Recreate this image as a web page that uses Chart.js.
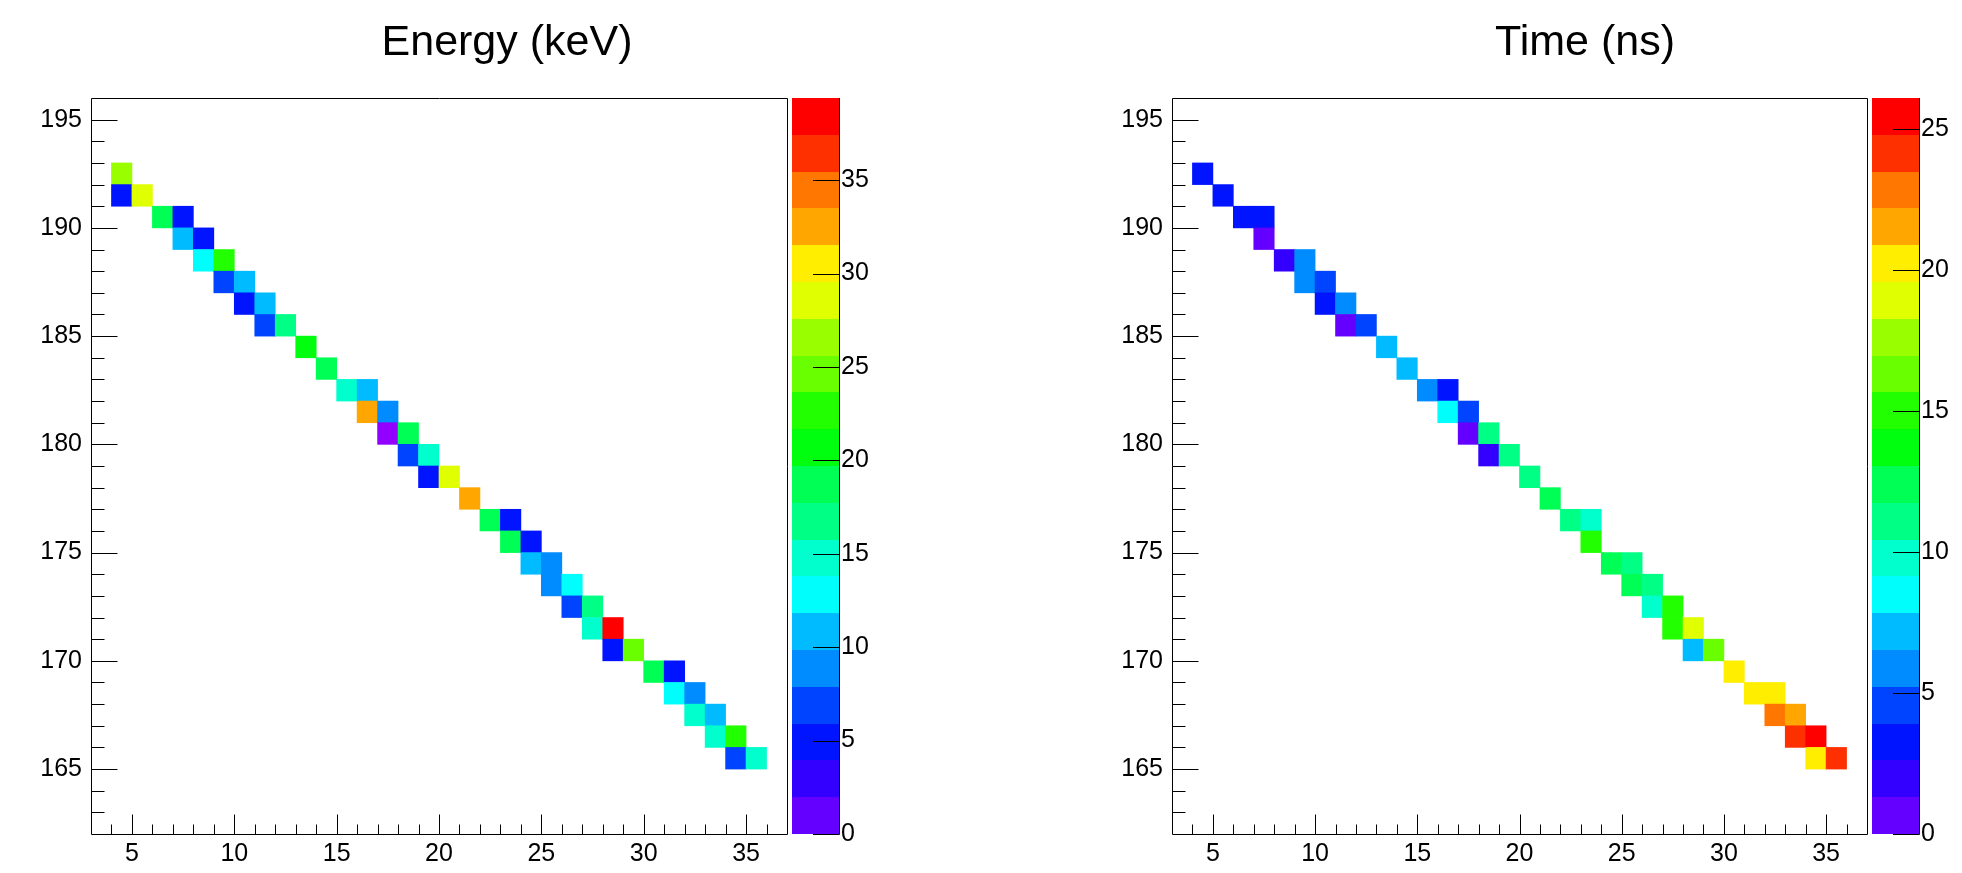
<!DOCTYPE html>
<html>
<head>
<meta charset="utf-8">
<title>Energy and time maps</title>
<script src="https://cdn.jsdelivr.net/npm/chart.js@4.4.1/dist/chart.umd.min.js"></script>
<style>
  html, body { margin: 0; padding: 0; background: #fff; overflow: hidden; width: 1962px; height: 873px; }
  .pad { position: absolute; top: 0; }
  canvas { display: block; }
</style>
</head>
<body>
<div class="pad" style="left:33px"><canvas id="energyPad" width="948" height="873"></canvas></div>
<div class="pad" style="left:1110px"><canvas id="timePad" width="950" height="873"></canvas></div>
<script>
// ---- axis ranges and tick labels ----
const xRange = [3, 37];
const yRange = [162, 196];
const xTickLabels = [5, 10, 15, 20, 25, 30, 35];
const yTickLabels = [165, 170, 175, 180, 185, 190, 195];
const energyZTicks = [0, 5, 10, 15, 20, 25, 30, 35];
const timeZTicks = [0, 5, 10, 15, 20, 25];

// ---- Energy (keV): lower bin edges and contents ----
const energyBinX = [4, 4, 5, 6, 7, 7, 8, 8, 9, 9, 10, 10, 11, 11, 12, 13, 14, 15, 16, 16, 17, 17,
  18, 18, 19, 19, 20, 21, 22, 23, 23, 24, 24, 25, 25, 26, 26, 27, 27, 28, 28, 29, 30, 31, 31, 32, 32,
  33, 33, 34, 34, 35];
const energyBinY = [192, 191, 191, 190, 190, 189, 189, 188, 188, 187, 187, 186, 186, 185, 185, 184, 183, 182, 182, 181, 181, 180,
  180, 179, 179, 178, 178, 177, 176, 176, 175, 175, 174, 174, 173, 173, 172, 172, 171, 171, 170, 170, 169, 169, 168, 168, 167,
  167, 166, 166, 165, 165];
const energyValues = [26.5, 4.9, 28.5, 18.7, 5.0, 10.8, 4.8, 12.8, 22.6, 6.9, 10.9, 5.1, 10.7, 6.8, 16.7, 20.6, 18.6, 14.8, 11.0, 32.4, 8.9, -1.2,
  18.7, 6.9, 14.7, 4.9, 28.6, 32.5, 18.8, 5.0, 18.6, 4.7, 10.9, 8.8, 8.9, 12.7, 6.9, 16.8, 14.7, 39.4, 4.9, 24.6, 18.7, 5.0, 12.8, 8.9, 14.8,
  10.8, 14.7, 22.6, 6.9, 14.8];

// ---- Time (ns): lower bin edges and contents ----
const timeBinX = [4, 5, 6, 7, 7, 8, 9, 9, 10, 10, 11, 11, 12, 13, 14, 15, 16, 16, 17, 17, 18, 18,
  19, 20, 21, 22, 23, 23, 24, 25, 25, 26, 26, 27, 27, 28, 28, 29, 30, 31, 32, 32, 33, 33, 34, 34, 35];
const timeBinY = [192, 191, 190, 190, 189, 188, 188, 187, 187, 186, 186, 185, 185, 184, 183, 182, 182, 181, 181, 180, 180, 179,
  179, 178, 177, 176, 176, 175, 174, 174, 173, 173, 172, 172, 171, 171, 170, 170, 169, 168, 168, 167, 167, 166, 166, 165, 165];
const timeValues = [3.3, 3.2, 3.3, 3.4, 0.7, 2.0, 5.9, 5.8, 4.6, 3.3, 6.0, 0.6, 4.5, 7.2, 7.3, 5.9, 3.2, 8.5, 4.6, 0.7, 11.1, 1.9,
  11.2, 11.1, 12.5, 11.2, 9.8, 15.1, 12.4, 11.1, 12.5, 11.2, 9.9, 15.0, 15.1, 19.0, 7.2, 16.4, 20.3, 20.4, 20.2, 22.9, 21.6, 24.3, 26.1, 20.3, 24.2];

// ---- colour palette: 50 saturated hues from violet (280 deg) down to red, 20 contour levels ----
const PALETTE_SIZE = 50;
const CONTOURS = 20;
function paletteColor(i) {
  const hue = 280 - (i + 1) * 280 / PALETTE_SIZE;
  return 'hsl(' + hue.toFixed(2) + ', 100%, 50%)';
}
function levelColor(k) {
  return paletteColor(Math.floor((k + 0.99) * PALETTE_SIZE / CONTOURS));
}
function binColor(v, zmin, zmax) {
  if (v < zmin) return paletteColor(0);
  let k = Math.floor(0.01 + (v - zmin) * CONTOURS / (zmax - zmin));
  if (k > CONTOURS - 1) k = CONTOURS - 1;
  return levelColor(k);
}

const FONT = '"Liberation Sans", Arial, Helvetica, sans-serif';
Chart.defaults.font.family = FONT;
Chart.defaults.color = '#000';

// frame, inner tick marks and the colour scale beside the frame
const framePlugin = {
  id: 'framePlugin',
  afterDraw(chart) {
    const { ctx, chartArea: a, scales: { x, y, z } } = chart;
    ctx.save();

    // colour scale bands
    const zl = z.min, zh = z.max;
    const pl = Math.round(a.right) + 5, pr = pl + 47;
    for (let k = 0; k < CONTOURS; k++) {
      const yb = Math.round(z.getPixelForValue(zl + k * (zh - zl) / CONTOURS));
      const yt = Math.round(z.getPixelForValue(zl + (k + 1) * (zh - zl) / CONTOURS));
      ctx.fillStyle = levelColor(k);
      ctx.fillRect(pl, yt, pr - pl, yb - yt);
    }
    ctx.strokeStyle = '#000';
    ctx.lineWidth = 1;
    ctx.beginPath();
    ctx.moveTo(pr + 0.5, Math.round(a.top));
    ctx.lineTo(pr + 0.5, Math.round(a.bottom) + 0.5);
    z.ticks.forEach(t => {
      const py = Math.round(z.getPixelForValue(t.value)) + 0.5;
      ctx.moveTo(pr - 26, py);
      ctx.lineTo(pr + 0.5, py);
    });
    ctx.stroke();

    // frame
    const L = Math.round(a.left) + 0.5, R = Math.round(a.right) + 0.5;
    const T = Math.round(a.top) + 0.5, B = Math.round(a.bottom) + 0.5;
    ctx.beginPath();
    ctx.rect(L, T, R - L, B - T);
    ctx.stroke();

    // x ticks pointing up into the frame, one per bin
    ctx.beginPath();
    for (let v = Math.ceil(x.min) + 1; v < x.max; v++) {
      const px = Math.round(x.getPixelForValue(v)) + 0.5;
      const len = v % 5 === 0 ? 20 : 10;
      ctx.moveTo(px, B);
      ctx.lineTo(px, B - len);
    }
    // y ticks pointing right into the frame
    for (let v = Math.ceil(y.min) + 1; v < y.max; v++) {
      const py = Math.round(y.getPixelForValue(v)) + 0.5;
      const len = v % 5 === 0 ? 26 : 13;
      ctx.moveTo(L, py);
      ctx.lineTo(L + len, py);
    }
    ctx.stroke();
    ctx.restore();
  }
};

function fixedTicks(list) {
  return scale => { scale.ticks = list.map(v => ({ value: v })); };
}

function makePad(canvasId, title, binX, binY, values, zTicks, yWidth, zWidth) {
  const zmin = 0;
  const zmax = Math.max(...values);
  const cells = binX.map((bx, i) => ({ x: bx + 0.5, y: [binY[i], binY[i] + 1], v: values[i] }));
  const tickFont = { family: FONT, size: 25 };
  return new Chart(document.getElementById(canvasId), {
    type: 'bar',
    data: {
      datasets: [{
        data: cells,
        backgroundColor: c => (c.raw ? binColor(c.raw.v, zmin, zmax) : '#fff'),
        borderWidth: 0,
        barPercentage: 1,
        categoryPercentage: 1,
        grouped: false,
        xAxisID: 'x',
        yAxisID: 'y'
      }]
    },
    options: {
      responsive: false,
      devicePixelRatio: 1,
      animation: false,
      events: [],
      layout: { padding: 0 },
      plugins: {
        legend: { display: false },
        tooltip: { enabled: false },
        title: {
          display: true,
          text: title,
          color: '#000',
          font: { family: FONT, size: 43, weight: 'normal' },
          padding: { top: 17.2, bottom: 29.2 }
        }
      },
      scales: {
        x: {
          type: 'linear', position: 'bottom', min: xRange[0], max: xRange[1],
          offset: false, bounds: 'data',
          afterBuildTicks: fixedTicks(xTickLabels),
          afterFit: s => { s.height = 39; s.paddingLeft = 0; s.paddingRight = 0; },
          grid: { display: false, drawTicks: false },
          border: { display: false },
          ticks: { font: tickFont, color: '#000', padding: 5, maxRotation: 0, autoSkip: false }
        },
        y: {
          type: 'linear', position: 'left', min: yRange[0], max: yRange[1],
          bounds: 'data',
          afterBuildTicks: fixedTicks(yTickLabels),
          afterFit: s => { s.width = yWidth; s.paddingTop = 0; s.paddingBottom = 0; },
          grid: { display: false, drawTicks: false },
          border: { display: false },
          ticks: { font: tickFont, color: '#000', padding: 9, autoSkip: false }
        },
        z: {
          type: 'linear', position: 'right', min: zmin, max: zmax,
          bounds: 'data',
          afterBuildTicks: fixedTicks(zTicks),
          afterFit: s => { s.width = zWidth; s.paddingTop = 0; s.paddingBottom = 0; },
          grid: { display: false, drawTicks: false },
          border: { display: false },
          ticks: { font: tickFont, color: '#000', padding: 54, autoSkip: false }
        }
      }
    },
    plugins: [framePlugin]
  });
}

makePad('energyPad', 'Energy (keV)', energyBinX, energyBinY, energyValues, energyZTicks, 58, 194);
makePad('timePad', 'Time (ns)', timeBinX, timeBinY, timeValues, timeZTicks, 62, 193);
</script>
</body>
</html>
